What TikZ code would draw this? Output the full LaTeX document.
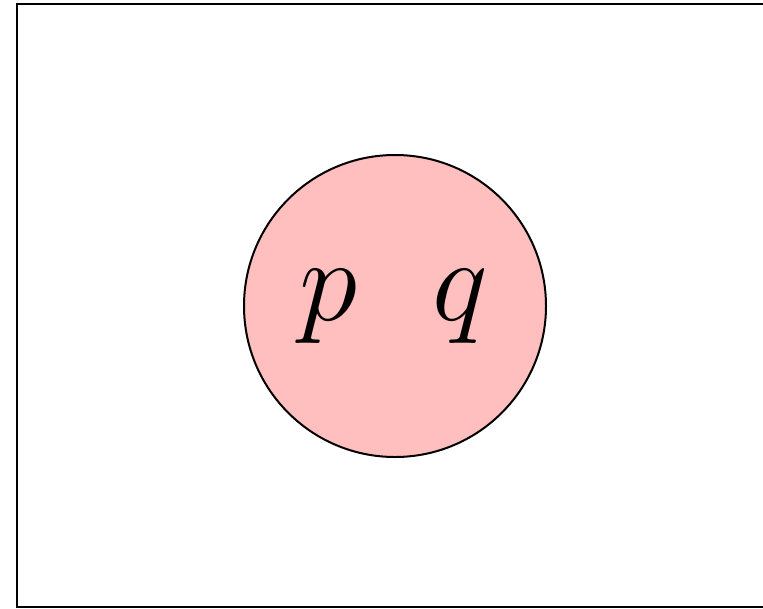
\documentclass[tikz,border=0pt]{standalone}
\tikzset{
  frame/.style={draw=black, line width=2pt},
  setcircle/.style={circle, draw=black, line width=2pt, fill=red!25, minimum size=302pt, inner sep=0pt},
  elem/.style={anchor=base, inner sep=0pt, font=\Huge, scale=4.75}
}
\begin{document}
\begin{tikzpicture}[x=1pt,y=-1pt]
  \useasboundingbox (0,0) rectangle (763,608);
  \begin{scope}
    \clip (0,0) rectangle (763,608);
    \draw[frame] (17,4) rectangle (775,607);
  \end{scope}
  \node[setcircle] (A) at (395,306) {};
  \node[elem] (p) at (329,320) {$p$};
  \node[elem] (q) at (460,320) {$q$};
\end{tikzpicture}
\end{document}
